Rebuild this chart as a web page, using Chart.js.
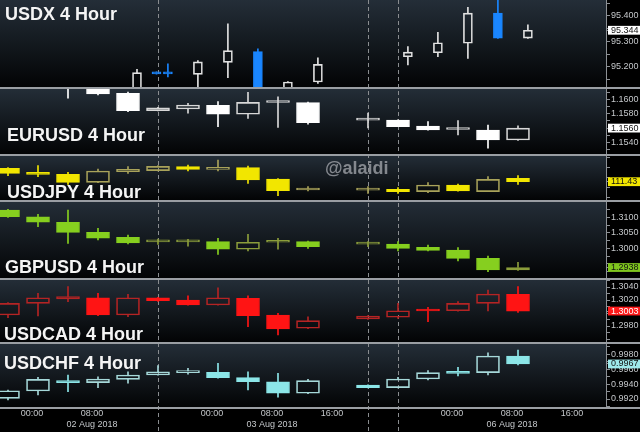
<!DOCTYPE html>
<html>
<head>
<meta charset="utf-8">
<script src="https://cdn.jsdelivr.net/npm/chart.js@4.4.1/dist/chart.umd.min.js"></script>
<style>
  html, body { margin: 0; padding: 0; background: #000; }
  canvas { display: block; }
</style>
</head>
<body>
<canvas id="chart" width="640" height="432"></canvas>
<script>
// 4 hour bars, slot 11 is the weekend hole
const slots = [0, 1, 2, 3, 4, 5, 6, 7, 8, 9, 10, 12, 13, 14, 15, 16, 17];
const usdxSlots = [4.3, 4.95, 5.33, 6.33, 7.33, 8.33, 9.33, 10.33, 13.33, 14.33, 15.33, 16.33, 17.33];

const usdxOpen  = [95.100, 95.180, 95.180, 95.171, 95.218, 95.260, 95.110, 95.141, 95.240, 95.256, 95.293, 95.411, 95.313];
const usdxHigh  = [95.191, 95.181, 95.212, 95.225, 95.369, 95.271, 95.143, 95.236, 95.280, 95.336, 95.434, 95.480, 95.365];
const usdxLow   = [95.080, 95.172, 95.161, 95.100, 95.158, 95.090, 95.090, 95.136, 95.208, 95.240, 95.234, 95.312, 95.312];
const usdxClose = [95.178, 95.173, 95.173, 95.220, 95.264, 95.100, 95.141, 95.210, 95.258, 95.295, 95.411, 95.313, 95.344];

const eurOpen  = [1.1662, 1.1654, 1.1641, 1.1617, 1.16083, 1.15842, 1.15865, 1.15917, 1.15792, 1.15955, 1.15953, 1.15710, 1.15713, 1.15629, 1.15580, 1.15574, 1.15435];
const eurHigh  = [1.1668, 1.1660, 1.1646, 1.1620, 1.16100, 1.15890, 1.15944, 1.15967, 1.16097, 1.16036, 1.15960, 1.15810, 1.15715, 1.15689, 1.15703, 1.15643, 1.15633];
const eurLow   = [1.1650, 1.1638, 1.16014, 1.1606, 1.15828, 1.15840, 1.15806, 1.15620, 1.15736, 1.15611, 1.15653, 1.15601, 1.15620, 1.15570, 1.15504, 1.15320, 1.15430];
const eurClose = [1.1654, 1.1641, 1.1618, 1.16074, 1.15842, 1.15883, 1.15921, 1.15792, 1.15958, 1.15960, 1.15675, 1.15715, 1.15620, 1.15574, 1.15585, 1.15435, 1.15600];

const jpyOpen  = [111.497, 111.475, 111.467, 111.427, 111.480, 111.485, 111.505, 111.492, 111.500, 111.4435, 111.3885, 111.388, 111.392, 111.380, 111.4135, 111.380, 111.447];
const jpyHigh  = [111.500, 111.510, 111.477, 111.4935, 111.505, 111.510, 111.5135, 111.5385, 111.5085, 111.445, 111.405, 111.405, 111.400, 111.425, 111.418, 111.455, 111.460];
const jpyLow   = [111.460, 111.455, 111.417, 111.425, 111.472, 111.484, 111.4835, 111.4835, 111.422, 111.360, 111.3835, 111.372, 111.372, 111.375, 111.383, 111.380, 111.417];
const jpyClose = [111.472, 111.467, 111.427, 111.4835, 111.492, 111.507, 111.492, 111.502, 111.4385, 111.385, 111.397, 111.391, 111.380, 111.4135, 111.3835, 111.442, 111.430];

const gbpOpen  = [1.31235, 1.31019, 1.30839, 1.30516, 1.30355, 1.30205, 1.30208, 1.30213, 1.29968, 1.30194, 1.30213, 1.30135, 1.30139, 1.30032, 1.29945, 1.29677, 1.29300];
const gbpHigh  = [1.31260, 1.31097, 1.31235, 1.30645, 1.30429, 1.30300, 1.30290, 1.30323, 1.30452, 1.30323, 1.30236, 1.30213, 1.30213, 1.30106, 1.30020, 1.29752, 1.29548];
const gbpLow   = [1.31000, 1.30697, 1.30161, 1.30268, 1.30139, 1.30129, 1.30070, 1.29806, 1.29913, 1.29968, 1.29997, 1.30052, 1.29913, 1.29913, 1.29590, 1.29245, 1.29290];
const gbpClose = [1.31019, 1.30839, 1.30516, 1.30323, 1.30171, 1.30215, 1.30216, 1.29968, 1.30194, 1.30213, 1.30052, 1.30143, 1.30000, 1.29935, 1.29677, 1.29300, 1.29380];

const cadOpen  = [1.29969, 1.30149, 1.30215, 1.30235, 1.29969, 1.30235, 1.30200, 1.30123, 1.30226, 1.29969, 1.29765, 1.29908, 1.29934, 1.30057, 1.30035, 1.30149, 1.30288];
const cadHigh  = [1.30160, 1.30303, 1.30405, 1.30303, 1.30288, 1.30240, 1.30266, 1.30389, 1.30266, 1.29995, 1.29943, 1.29960, 1.30149, 1.30088, 1.30174, 1.30354, 1.30405];
const cadLow   = [1.29928, 1.29957, 1.30174, 1.29960, 1.29943, 1.30180, 1.30120, 1.30120, 1.29789, 1.29662, 1.29760, 1.29900, 1.29918, 1.29866, 1.30030, 1.30031, 1.30010];
const cadClose = [1.30149, 1.30235, 1.30251, 1.29969, 1.30235, 1.30189, 1.30123, 1.30235, 1.29958, 1.29754, 1.29882, 1.29954, 1.30035, 1.30031, 1.30149, 1.30292, 1.30030];

const chfOpen  = [0.99209, 0.99307, 0.99446, 0.99419, 0.99464, 0.99522, 0.99553, 0.99558, 0.99486, 0.99432, 0.99277, 0.99388, 0.99352, 0.99468, 0.99566, 0.99553, 0.99777];
const chfHigh  = [0.99320, 0.99491, 0.99522, 0.99499, 0.99566, 0.99647, 0.99612, 0.99679, 0.99566, 0.99545, 0.99464, 0.99390, 0.99491, 0.99580, 0.99625, 0.99821, 0.99858];
const chfLow   = [0.99187, 0.99254, 0.99298, 0.99352, 0.99411, 0.99520, 0.99532, 0.99480, 0.99321, 0.99223, 0.99270, 0.99350, 0.99350, 0.99455, 0.99509, 0.99522, 0.99656];
const chfClose = [0.99311, 0.99464, 0.99419, 0.99468, 0.99522, 0.99566, 0.99576, 0.99486, 0.99432, 0.99277, 0.99446, 0.99352, 0.99468, 0.99553, 0.99545, 0.99777, 0.99670];

// bottom axis
const axisSlots = [0, 2, 6, 8, 10, 14, 16, 18];
const axisTimes = ['00:00', '08:00', '00:00', '08:00', '16:00', '00:00', '08:00', '16:00'];
const axisDates = ['', '02 Aug 2018', '', '03 Aug 2018', '', '', '06 Aug 2018', ''];
const breakSlots = [5, 12, 13];

const titles = ['USDX 4 Hour', 'EURUSD 4 Hour', 'USDJPY 4 Hour', 'GBPUSD 4 Hour', 'USDCAD 4 Hour', 'USDCHF 4 Hour'];

const series = [
    { x: usdxSlots, o: usdxOpen, h: usdxHigh, l: usdxLow, c: usdxClose },
    { x: slots, o: eurOpen, h: eurHigh, l: eurLow, c: eurClose },
    { x: slots, o: jpyOpen, h: jpyHigh, l: jpyLow, c: jpyClose },
    { x: slots, o: gbpOpen, h: gbpHigh, l: gbpLow, c: gbpClose },
    { x: slots, o: cadOpen, h: cadHigh, l: cadLow, c: cadClose },
    { x: slots, o: chfOpen, h: chfHigh, l: chfLow, c: chfClose }
];

// look of each panel (colours, axis range, size)
const looks = [
    { up: '#e2e2e2', down: '#1a86ff', tag: '#ffffff', tagText: '#111111', body: 9,  min: 95.1176, max: 95.4627, minor: 0.05,   major: 0.1,   dec: 3, weight: 88, tx: 5, ty: 20 },
    { up: '#d8d8d8', down: '#ffffff', tag: '#ffffff', tagText: '#111111', body: 23, min: 1.152264, max: 1.161569, minor: 0.001, major: 0.002, dec: 4, weight: 67, tx: 7, ty: 53 },
    { up: '#a9a35a', down: '#f2e600', tag: '#f2e600', tagText: '#111111', body: 23, min: 111.3335, max: 111.5635, minor: 0.05, major: null,  dec: 2, weight: 46, tx: 7, ty: 43 },
    { up: '#8b9d3b', down: '#86cf1f', tag: '#7fc51e', tagText: '#111111', body: 23, min: 1.290097, max: 1.315258, minor: 0.0025, major: 0.005, dec: 4, weight: 78, tx: 5, ty: 72 },
    { up: '#b52424', down: '#ff1414', tag: '#ff1a1a', tagText: '#ffffff', body: 23, min: 1.295385, max: 1.305231, minor: 0.001, major: 0.002, dec: 4, weight: 64, tx: 4, ty: 61 },
    { up: '#a6d9da', down: '#8ce6e8', tag: '#9ee8ea', tagText: '#111111', body: 23, min: 0.990792, max: 0.999517, minor: 0.001, major: 0.002, dec: 4, weight: 65, tx: 4, ty: 26 }
];

const gridGrey = '#8d9196';
const labelGrey = '#c4c7ca';
const labelFont = { family: "'Liberation Sans', Arial, sans-serif", size: 9 };

let candleSets = function(s, axis, lk) {
    const wicks = [], wickCols = [], bodies = [], fills = [], lines = [];
    s.x.forEach(function(x, i) {
        const rising = s.c[i] >= s.o[i];
        const col = rising ? lk.up : lk.down;
        const top = Math.max(s.o[i], s.c[i]);
        const bot = Math.min(s.o[i], s.c[i]);
        wicks.push({ x: x, y: [top, s.h[i]] }, { x: x, y: [s.l[i], bot] });
        wickCols.push(col, col);
        bodies.push({ x: x, y: [s.o[i], s.c[i]] });
        fills.push(rising ? 'rgba(0,0,0,0)' : lk.down);
        lines.push(col);
    });
    return [
        { data: wicks, yAxisID: axis, backgroundColor: wickCols, barThickness: 1, stack: 'c', order: 2 },
        { data: bodies, yAxisID: axis, backgroundColor: fills, borderColor: lines, borderWidth: 1,
          borderSkipped: false, barThickness: lk.body, minBarLength: 2, stack: 'c', order: 1 }
    ];
};

let priceAxis = function(lk, last) {
    const isTag = c => c.tick && c.tick.value === last;
    const perPx = (lk.max - lk.min) / lk.weight;
    return {
        type: 'linear', position: 'right', stack: 'fx', stackWeight: lk.weight, stacked: false,
        min: lk.min, max: lk.max,
        border: { color: gridGrey, width: 1 },
        grid: { drawOnChartArea: false, drawTicks: true, tickLength: 4, color: gridGrey },
        afterBuildTicks: function(scale) {
            const t = [];
            const n0 = Math.ceil(lk.min / lk.minor - 1e-9), n1 = Math.floor(lk.max / lk.minor + 1e-9);
            for (let n = n0; n <= n1; n++) {
                const v = +(n * lk.minor).toFixed(6);
                if (Math.abs(v - last) > 1e-9) t.push({ value: v });
            }
            t.push({ value: last });
            scale.ticks = t;
        },
        afterFit: function(scale) {
            scale.width = 34;
            scale.paddingTop = 0;
            scale.paddingBottom = 0;
        },
        ticks: {
            autoSkip: false, padding: 1, font: labelFont,
            color: c => isTag(c) ? lk.tagText : labelGrey,
            showLabelBackdrop: c => isTag(c),
            backdropColor: lk.tag,
            backdropPadding: { top: -1, bottom: -1, left: 3, right: 4 },
            callback: function(v, i, t) {
                if (i === t.length - 1) return v.toFixed(lk.dec);
                // labels too close to the panel edge or under the price tag stay hidden
                if (v < lk.min + 7 * perPx || v > lk.max - 7 * perPx) return '';
                if (Math.abs(v - last) < 5 * perPx) return '';
                if (lk.major && Math.abs(v / lk.major - Math.round(v / lk.major)) < 1e-6) return v.toFixed(lk.dec);
                return '';
            }
        }
    };
};

const datasets = [];
const scales = {
    x: {
        type: 'linear', min: -8 / 30, max: 598 / 30, offset: false,
        grid: { display: false, drawTicks: false, offset: false },
        border: { display: false },
        afterBuildTicks: function(scale) { scale.ticks = axisSlots.map(v => ({ value: v })); },
        afterFit: function(scale) {
            scale.height = 24;
            scale.paddingLeft = 0;
            scale.paddingRight = 0;
        },
        ticks: {
            autoSkip: false, maxRotation: 0, padding: 0, labelOffset: 24,
            color: labelGrey, font: labelFont,
            callback: (v, i) => axisDates[i] ? [axisTimes[i], axisDates[i]] : axisTimes[i]
        }
    }
};
series.forEach(function(s, k) {
    const id = 'y' + k;
    datasets.push(...candleSets(s, id, looks[k]));
    scales[id] = priceAxis(looks[k], s.c[s.c.length - 1]);
});

// panel background gradient + session breaks
const panelBack = {
    id: 'panelBack',
    beforeDraw(chart) {
        const ctx = chart.ctx, a = chart.chartArea;
        ctx.save();
        ctx.fillStyle = '#000';
        ctx.fillRect(0, 0, chart.width, chart.height);
        series.forEach(function(s, k) {
            const sc = chart.scales['y' + k];
            const g = ctx.createLinearGradient(0, sc.top, 0, sc.bottom);
            g.addColorStop(0, '#242e38');
            g.addColorStop(1, '#020304');
            ctx.fillStyle = g;
            ctx.fillRect(a.left, sc.top, a.right - a.left, sc.bottom - sc.top);
        });
        ctx.restore();
    },
    beforeDatasetsDraw(chart) {
        const ctx = chart.ctx, xs = chart.scales.x;
        ctx.save();
        ctx.strokeStyle = '#8a8d90';
        ctx.lineWidth = 1;
        ctx.setLineDash([4, 3]);
        breakSlots.forEach(function(b) {
            const px = Math.round(xs.getPixelForValue(b)) + 0.5;
            ctx.beginPath();
            ctx.moveTo(px, 0);
            ctx.lineTo(px, chart.height);
            ctx.stroke();
        });
        ctx.restore();
    }
};

// keep each pair inside its own panel
const panelClip = {
    id: 'panelClip',
    beforeDatasetDraw(chart, args) {
        const sc = chart.scales[chart.data.datasets[args.index].yAxisID];
        const a = chart.chartArea;
        chart.ctx.save();
        chart.ctx.beginPath();
        chart.ctx.rect(a.left, sc.top, a.right - a.left, sc.bottom - sc.top);
        chart.ctx.clip();
    },
    afterDatasetDraw(chart) {
        chart.ctx.restore();
    }
};

const panelText = {
    id: 'panelText',
    afterDraw(chart) {
        const ctx = chart.ctx;
        ctx.save();
        ctx.textBaseline = 'alphabetic';
        ctx.textAlign = 'left';
        ctx.font = "bold 18px 'Liberation Sans', Arial, sans-serif";
        ctx.fillStyle = 'rgba(150,154,160,0.85)';
        ctx.fillText('@alaidi', 325, chart.scales.y2.top + 19);
        series.forEach(function(s, k) {
            const sc = chart.scales['y' + k];
            ctx.fillStyle = '#f4f4f4';
            ctx.fillText(titles[k], looks[k].tx, sc.top + looks[k].ty);
            ctx.fillStyle = '#9a9ea3';
            ctx.fillRect(0, Math.round(sc.bottom) - 1, chart.width, 2);
        });
        ctx.restore();
    }
};

const fx = new Chart(document.getElementById('chart').getContext('2d'), {
    type: 'bar',
    data: { datasets: datasets },
    options: {
        responsive: false,
        animation: false,
        events: [],
        layout: { padding: 0 },
        grouped: true,
        plugins: { legend: { display: false }, tooltip: { enabled: false } },
        scales: scales
    },
    plugins: [panelBack, panelClip, panelText]
});
</script>
</body>
</html>
